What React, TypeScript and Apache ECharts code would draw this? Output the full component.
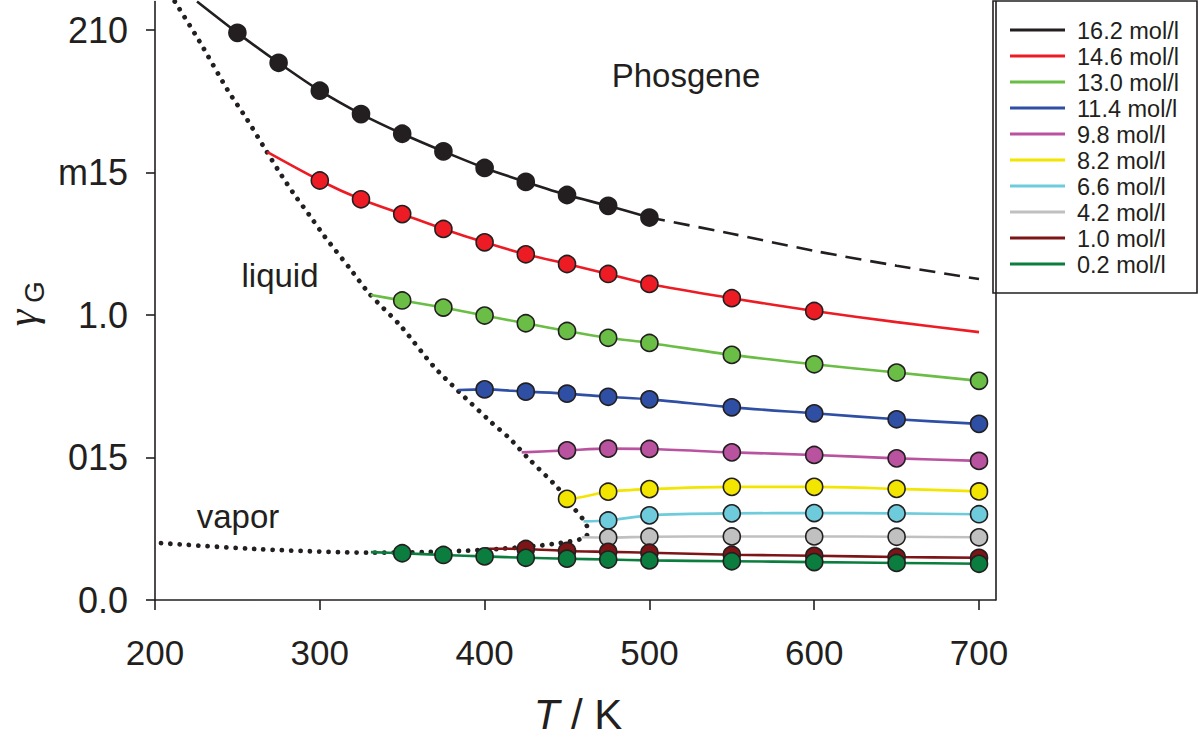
import React, { useEffect, useRef } from "react";
import * as echarts from "echarts";

const FONT = '"Liberation Sans", Arial, Helvetica, sans-serif';
const INK = "#231f20";

// Axis ticks and their printed labels
const xTicks = [200, 300, 400, 500, 600, 700];
const yTicks = [0, 0.5, 1.0, 1.5, 2.0];
const yTickLabels = ["0.0", "015", "1.0", "m15", "210"];

// Densities (legend order) and line colours
const densities = [
  "16.2 mol/l", "14.6 mol/l", "13.0 mol/l", "11.4 mol/l", "9.8 mol/l",
  "8.2 mol/l", "6.6 mol/l", "4.2 mol/l", "1.0 mol/l", "0.2 mol/l",
];
const colors = [
  "#231f20", "#ed1c24", "#6abd45", "#2e4fa3", "#b9529f",
  "#f2e500", "#6dcbdc", "#c0c0c0", "#7d1517", "#0b7d3e",
];

// Simulation points [T / K, gamma_G]
const pts162 = [[250, 1.99], [275, 1.885], [300, 1.787], [325, 1.705], [350, 1.636], [375, 1.574], [400, 1.516], [425, 1.467], [450, 1.421], [475, 1.383], [500, 1.342]];
const pts146 = [[300, 1.472], [325, 1.406], [350, 1.354], [375, 1.302], [400, 1.255], [425, 1.213], [450, 1.179], [475, 1.144], [500, 1.109], [550, 1.059], [600, 1.014]];
const pts130 = [[350, 1.051], [375, 1.026], [400, 0.998], [425, 0.971], [450, 0.944], [475, 0.92], [500, 0.902], [550, 0.86], [600, 0.827], [650, 0.798], [700, 0.769]];
const pts114 = [[400, 0.739], [425, 0.731], [450, 0.724], [475, 0.713], [500, 0.704], [550, 0.676], [600, 0.655], [650, 0.634], [700, 0.618]];
const pts98 = [[450, 0.525], [475, 0.531], [500, 0.53], [550, 0.518], [600, 0.509], [650, 0.497], [700, 0.488]];
const pts82 = [[450, 0.355], [475, 0.38], [500, 0.389], [550, 0.397], [600, 0.397], [650, 0.39], [700, 0.381]];
const pts66 = [[475, 0.279], [500, 0.297], [550, 0.304], [600, 0.305], [650, 0.304], [700, 0.301]];
const pts42 = [[475, 0.219], [500, 0.222], [550, 0.223], [600, 0.223], [650, 0.222], [700, 0.22]];
const pts10 = [[425, 0.179], [450, 0.172], [475, 0.169], [500, 0.166], [550, 0.159], [600, 0.155], [650, 0.151], [700, 0.148]];
const pts02 = [[350, 0.164], [375, 0.158], [400, 0.153], [425, 0.148], [450, 0.145], [475, 0.142], [500, 0.139], [550, 0.136], [600, 0.133], [650, 0.13], [700, 0.127]];
const points = [pts162, pts146, pts130, pts114, pts98, pts82, pts66, pts42, pts10, pts02];

// Stretches of the fitted curves that carry no simulation point
const fitStart = [[225.5, 2.1], [268, 1.572], [331, 1.07], [384, 0.737], [422.5, 0.518], [446, 0.356], [460, 0.276], [459, 0.22], [401, 0.18], [331, 0.168]];
const fitTail: (number[][] | null)[] = [null, [[650, 0.975], [700, 0.94]], null, null, null, null, null, null, null, null];

// Extrapolation of the 16.2 mol/l fit
const fit162Extra = [[500, 1.342], [550, 1.285], [600, 1.225], [650, 1.173], [700, 1.126]];

// Vapour-liquid coexistence curve (liquid branch, then vapour branch)
const coexistence = [
  [212, 2.1], [227, 1.96], [244, 1.79], [256, 1.685], [266, 1.59], [275, 1.506],
  [284, 1.427], [293.6, 1.351], [303, 1.275], [318, 1.165], [330, 1.075], [349, 0.962],
  [369, 0.82], [384, 0.733], [404.5, 0.621], [415, 0.568], [426, 0.5], [444.5, 0.393],
  [453.6, 0.326], [460, 0.281], [462.5, 0.25], [462, 0.226], [458, 0.213], [446, 0.2],
  [430, 0.189], [408, 0.179], [385, 0.172], [363, 0.168], [331, 0.166], [264, 0.178], [200, 0.201],
];

// Legend box geometry
const LEG_X = 993;
const LEG_Y = 1;
const LEG_W = 204;
const LEG_H = 292;
const LEG_ROW0 = 30;
const LEG_ROW = 26;

export default function App() {
  const ref = useRef<HTMLDivElement>(null);

  useEffect(() => {
    if (!ref.current) return;
    const chart = echarts.init(ref.current, null, { renderer: "svg" });

    const densitySeries = densities.map((name, i) => {
      const data: any[] = [{ value: fitStart[i], symbol: "none" }];
      points[i].forEach((p) => data.push(p));
      (fitTail[i] || []).forEach((p) => data.push({ value: p, symbol: "none" }));
      return {
        name,
        type: "line",
        data,
        smooth: 0.3,
        symbol: "circle",
        symbolSize: 17,
        showAllSymbol: true,
        color: colors[i],
        lineStyle: { color: colors[i], width: 2.6 },
        itemStyle: { color: colors[i], borderColor: INK, borderWidth: 1.6 },
        emphasis: { disabled: true },
        z: 3,
      };
    });

    const legendItems: any[] = [
      {
        type: "rect",
        shape: { x: LEG_X, y: LEG_Y, width: LEG_W, height: LEG_H },
        style: { fill: "#ffffff", stroke: INK, lineWidth: 1.6 },
      },
    ];
    densities.forEach((name, i) => {
      const y = LEG_ROW0 + i * LEG_ROW;
      legendItems.push({
        type: "line",
        shape: { x1: 1010, y1: y, x2: 1065, y2: y },
        style: { stroke: colors[i], lineWidth: 3 },
      });
      legendItems.push({
        type: "text",
        x: 1077,
        y: y + 1,
        style: { text: name, fontSize: 23.5, fontFamily: FONT, fill: INK, align: "left", verticalAlign: "middle" },
      });
    });

    chart.setOption({
      animation: false,
      textStyle: { fontFamily: FONT },
      grid: { left: 155, right: 207.5, top: 1.5, bottom: 138, containLabel: false },
      xAxis: {
        type: "value",
        min: 200,
        max: 710,
        interval: 100,
        splitLine: { show: false },
        axisLine: { lineStyle: { color: INK, width: 1.6 } },
        axisTick: { length: 10, lineStyle: { color: INK, width: 1.6 }, customValues: xTicks },
        axisLabel: { customValues: xTicks, margin: 35, fontSize: 35, color: INK, fontFamily: FONT },
      },
      yAxis: [
        {
          type: "value",
          min: 0,
          max: 2.1,
          interval: 0.5,
          splitLine: { show: false },
          axisLine: { show: true, lineStyle: { color: INK, width: 1.6 } },
          axisTick: { show: true, length: 9, lineStyle: { color: INK, width: 1.6 }, customValues: yTicks },
          axisLabel: {
            customValues: yTicks,
            margin: 27,
            fontSize: 36,
            color: INK,
            fontFamily: FONT,
            formatter: (v: number) => {
              const k = yTicks.findIndex((t) => Math.abs(t - v) < 1e-6);
              return k >= 0 ? yTickLabels[k] : "";
            },
          },
        },
        {
          type: "value",
          position: "right",
          min: 0,
          max: 2.1,
          splitLine: { show: false },
          axisLine: { show: true, onZero: false, lineStyle: { color: INK, width: 1.6 } },
          axisTick: { show: false },
          axisLabel: { show: false },
        },
      ],
      series: [
        {
          name: "coexistence",
          type: "line",
          data: coexistence,
          smooth: 0.25,
          symbol: "none",
          lineStyle: { color: INK, width: 4.8, type: [0.01, 9.3], cap: "round" },
          emphasis: { disabled: true },
          z: 2,
        },
        {
          name: "16.2 extrapolated",
          type: "line",
          data: fit162Extra,
          smooth: 0.3,
          symbol: "none",
          lineStyle: { color: INK, width: 2.6, type: [16, 9] },
          emphasis: { disabled: true },
          z: 2,
        },
        ...densitySeries,
      ],
      graphic: [
        { type: "group", z: 100, children: legendItems },
        {
          type: "text",
          x: 686,
          y: 75,
          style: { text: "Phosgene", fontSize: 33, fontFamily: FONT, fill: INK, align: "center", verticalAlign: "middle" },
        },
        {
          type: "text",
          x: 280,
          y: 275,
          style: { text: "liquid", fontSize: 33, fontFamily: FONT, fill: INK, align: "center", verticalAlign: "middle" },
        },
        {
          type: "text",
          x: 238,
          y: 516,
          style: { text: "vapor", fontSize: 33, fontFamily: FONT, fill: INK, align: "center", verticalAlign: "middle" },
        },
        {
          type: "text",
          x: 578,
          y: 714,
          style: {
            text: "{i|T} / K",
            fontSize: 42,
            fontFamily: FONT,
            fill: INK,
            align: "center",
            verticalAlign: "middle",
            rich: { i: { fontStyle: "italic", fontSize: 42, fontFamily: FONT, fill: INK } },
          },
        },
        {
          type: "text",
          x: 22,
          y: 318,
          rotation: Math.PI / 2,
          style: { text: "γ", fontSize: 42, fontStyle: "italic", fontFamily: '"Liberation Serif", "DejaVu Serif", serif', fill: INK, align: "center", verticalAlign: "middle" },
        },
        {
          type: "text",
          x: 34,
          y: 292,
          rotation: Math.PI / 2,
          style: { text: "G", fontSize: 28, fontFamily: FONT, fill: INK, align: "center", verticalAlign: "middle" },
        },
      ],
    });

    return () => chart.dispose();
  }, []);

  return (
    <div
      ref={ref}
      style={{ position: "fixed", left: 0, top: 0, width: 1203, height: 738, background: "#ffffff" }}
    />
  );
}
